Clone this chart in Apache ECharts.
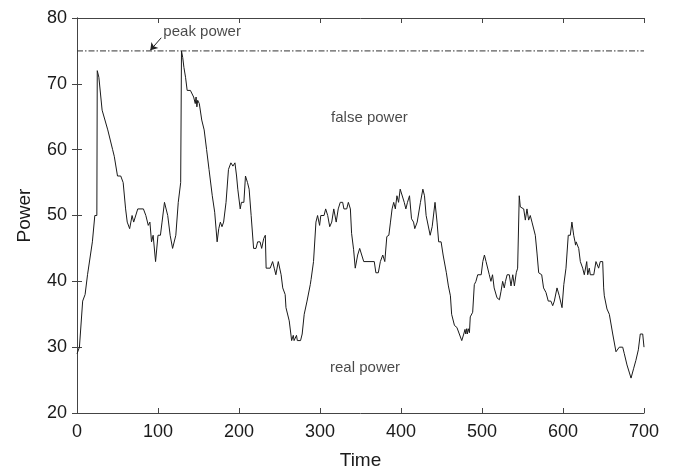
<!DOCTYPE html>
<html><head><meta charset="utf-8">
<script src="https://cdn.jsdelivr.net/npm/echarts@6/dist/echarts.min.js"></script>
<style>html,body{margin:0;padding:0;background:#fff}#c{width:673px;height:475px}</style>
</head><body><div id="c"></div>
<script>
const timeX = [0,3,7,10,13,19,22,24.5,25,27,31,38,44,46,50,54,57,60,62,65,68,70,72,75,82,85,88,90,92,94,97,100,103,105,108,112,115,118,122,125,128,129,130.5,132,134,136,140,144,146,147,148,149,151,154,157,160,163,167,170,173,175,177,179,181,184,187,190,192.5,195,197,198.5,201.5,203,206,208,210.5,212.5,215,218,221,223,226,228,230.5,232.5,233.5,238.5,241.5,243.5,245.5,248.5,252,254,257,258,262,265,267,268,271,272,276,278,280.5,284,288,289,292,295,297,299.5,301,305,307,309.5,312,314.5,317,320,322.5,325,328,329.5,333,335,337.5,339,341.5,343.5,346.5,349,351.5,354,367,369,372,374.5,377.5,380,382.5,385,387,389,391,393,395,397,399,401,404,406,408,410.5,413,415.5,417,420,422,424,427,429,431,433,436,438.5,440.5,442,444.5,446.5,449.5,452,453.5,456,458.5,461,462.5,466,469,472,475,477.5,479,480,481,482,483,484.5,485.5,488.5,490.5,492.5,494.7,499,501,503,505,507,509,511,513,515,518.5,521.5,523.5,525.5,527.5,529,531,533.7,535.8,538,540,542.3,544,546,547.3,551.5,553.5,555.5,557.6,559.6,561.7,563.8,565.8,567.9,570,573.7,576,579,581.8,585,587.3,589.3,592.6,595.4,598.8,601,603.7,606.5,609,611,613.2,614.8,615.5,616.2,617.3,619.4,621.4,624.3,626.3,629.3,630.5,632.5,633.7,638,640.7,642.8,644,646,649,650.2,651,654.3,657.2,661.4,665.4,669.5,673.7,675.7,679,681,684,687.3,690,693,695.4,698.4,700];
const powerY = [29,30,37,38,41,46,50,50,72,71,66,63,60,59,56,56,55,51,49,48,50,49,49,51,51,50,48.5,49,46,47,43,47,47,49,52,50,47,45,47,52,55,75,74,72.5,71,69,69,68,67,68,66.5,67.5,67,64.5,63,60,57,53,50.5,46,48,49,48.3,49,52,57,58,57.5,58,56,54,51,52,52,56,55,54,50,45,45,46,46,45,46.5,47,42,42,43,42,41,43,41,39,38,36,34,31,31.8,31,31.8,31,31,32,35,37,39.5,40.3,43,49,50,48.5,50,50,51,50,48.3,49,51,49,51,52,52,51,51,52,51,47.3,44.8,42,44,45,44,43,43,41.3,41.3,43,44,43,46.8,47,49,51,52,51,53,52,54,54,52,51,52,53,49.5,49,48,49,49,52,54,53,50,50,47,48.3,48.3,52,49,46,46,44,44,41.3,39.3,37.8,35,33.3,33,32,31,32,32.7,32,32.8,32,32.8,32.2,34.6,35.3,39.5,40,41,41,43,44,43,43,41,40,41,39,37.5,37.2,38.5,40,39,40,41,41,39.3,41,39.3,41.3,42,53,51.3,51,49.3,51,49.3,50,49,49,47,44.3,41.3,41,39,38.3,37,37,36.3,37,39,37.8,36,39.5,42,47,47,49,47,46,45.5,46,46,45,43,42,41,43,41,42,41,41,43,43,42,43,43,39,37.8,35.8,35,32,29.3,30,30,29,27.3,27,25.3,26.8,28,29.6,32,32,30];
const peakPower = 75;
const xTicks = [0,100,200,300,400,500,600,700];
const yTicks = [20,30,40,50,60,70,80];
const notes = [
  {name:'peak power', x:106, y:77.9, align:'left'},
  {name:'false power', x:361, y:64.9, align:'center'},
  {name:'real power', x:355.6, y:26.9, align:'center'}
];

const font = 'Liberation Sans, Arial, Helvetica, sans-serif';
const axisColor = '#444';
const chart = echarts.init(document.getElementById('c'));
const lineData = timeX.map((t,i)=>[t,powerY[i]]);
const baseX = {type:'value', min:xTicks[0], max:xTicks[xTicks.length-1], interval:100,
  splitLine:{show:false}, axisLine:{lineStyle:{color:axisColor,width:1}},
  axisTick:{inside:true,length:5,lineStyle:{color:axisColor}}};
const baseY = {type:'value', min:yTicks[0], max:yTicks[yTicks.length-1], interval:10,
  splitLine:{show:false}, axisLine:{lineStyle:{color:axisColor,width:1}},
  axisTick:{inside:true,length:5,lineStyle:{color:axisColor}}};
chart.setOption({
  animation:false,
  grid:{left:77,right:29,top:18,bottom:58,containLabel:false},
  xAxis:[
    Object.assign({}, baseX, {position:'bottom', name:'Time', nameLocation:'middle', nameGap:38,
      nameTextStyle:{fontFamily:font,fontSize:19,color:'#1a1a1a'},
      axisLabel:{fontFamily:font,fontSize:18,color:'#1a1a1a',margin:10}}),
    Object.assign({}, baseX, {position:'top', axisLabel:{show:false}})
  ],
  yAxis:[
    Object.assign({}, baseY, {position:'left', name:'Power', nameLocation:'middle', nameGap:43,
      nameTextStyle:{fontFamily:font,fontSize:19,color:'#1a1a1a'},
      axisLabel:{fontFamily:font,fontSize:18,color:'#1a1a1a',margin:10}}),
    Object.assign({}, baseY, {position:'right', axisLabel:{show:false}})
  ],
  series:[
    {type:'line', data:lineData, showSymbol:false, symbol:'none',
      lineStyle:{color:'#1a1a1a',width:1}, z:3},
    {type:'line', data:[[xTicks[0],peakPower],[xTicks[xTicks.length-1],peakPower]], symbol:'none',
      lineStyle:{color:'#333',width:1,type:[6,2,1.5,2]}, z:2,
      markLine:{silent:true, symbol:['none','arrow'], symbolSize:7,
        lineStyle:{color:'#222',width:1,type:'solid'}, label:{show:false},
        data:[[{coord:[104,77]},{coord:[90.5,75.1]}]]}},
    {type:'scatter', symbolSize:1, itemStyle:{color:'rgba(0,0,0,0)'}, z:4,
      data:notes.map(n=>({value:[n.x,n.y],name:n.name,
        label:{show:true,formatter:n.name,position:n.align==='left'?'right':'inside',distance:0,
          fontFamily:font,fontSize:15,color:'#1a1a1a'}}))}
  ]
});
</script></body></html>
